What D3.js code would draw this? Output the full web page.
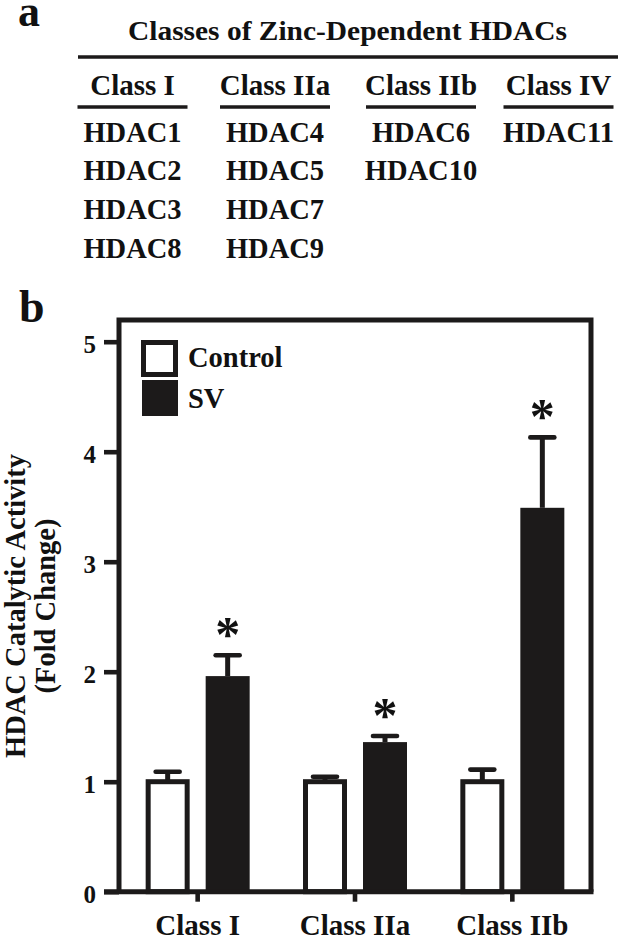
<!DOCTYPE html>
<html>
<head>
<meta charset="utf-8">
<script src="https://cdn.jsdelivr.net/npm/d3@7"></script>
<style>
  html, body { margin: 0; padding: 0; background: #fff; }
  svg { display: block; }
  text { font-family: "Liberation Serif", "Times New Roman", serif; font-weight: bold; fill: #111; }
</style>
</head>
<body>
<svg id="chart" width="618" height="938"></svg>
<script>
// ---------- Data ----------
const tableTitle = "Classes of Zinc-Dependent HDACs";
const tableClasses = ["Class I", "Class IIa", "Class IIb", "Class IV"];
const classIMembers = ["HDAC1", "HDAC2", "HDAC3", "HDAC8"];
const classIIaMembers = ["HDAC4", "HDAC5", "HDAC7", "HDAC9"];
const classIIbMembers = ["HDAC6", "HDAC10"];
const classIVMembers = ["HDAC11"];

const categories = ["Class I", "Class IIa", "Class IIb"];
const seriesNames = ["Control", "SV"];
const controlValues = [1.00, 1.00, 1.00];
const controlErrors = [0.09, 0.045, 0.11];
const svValues = [1.96, 1.36, 3.49];
const svErrors = [0.19, 0.055, 0.64];
const svSignificant = [true, true, true];
const yTicks = [0, 1, 2, 3, 4, 5];
const yLabelLines = ["HDAC Catalytic Activity", "(Fold Change)"];

(function () {
const FONT = '"Liberation Serif", "Times New Roman", serif';
const svg = d3.select("#chart");
const ink = "#1c1a1a";

// Panel labels
svg.append("text").attr("x", 18).attr("y", 26).attr("font-size", 44).text("a");
svg.append("text").attr("x", 19).attr("y", 322).attr("font-size", 46).text("b");

// ---------- Panel a: table ----------
svg.append("text")
  .attr("x", 347.5).attr("y", 40)
  .attr("text-anchor", "middle")
  .attr("font-size", 27.5)
  .attr("textLength", 439).attr("lengthAdjust", "spacingAndGlyphs")
  .text(tableTitle);
svg.append("line").attr("x1", 78).attr("x2", 618).attr("y1", 57).attr("y2", 57)
  .attr("stroke", ink).attr("stroke-width", 3.6);

const colCenters = [132.5, 275, 421, 558.5];
const members = [classIMembers, classIIaMembers, classIIbMembers, classIVMembers];
const rowY = d3.scaleLinear().domain([0, 1]).range([141.5, 180.4]);

tableClasses.forEach((c, i) => {
  const cx = colCenters[i];
  svg.append("text").attr("x", cx).attr("y", 95)
    .attr("text-anchor", "middle").attr("font-size", 29).text(c);
  svg.append("line").attr("x1", cx - 55).attr("x2", cx + 55)
    .attr("y1", 107).attr("y2", 107)
    .attr("stroke", ink).attr("stroke-width", 3.6);
  svg.selectAll(null).data(members[i]).enter().append("text")
    .attr("x", cx).attr("y", (d, j) => rowY(j))
    .attr("text-anchor", "middle").attr("font-size", 28.5)
    .text(d => d);
});

// ---------- Panel b: bar chart ----------
const plotLeft = 119, plotRight = 591, plotTop = 320, zeroY = 891.7;
const y = d3.scaleLinear().domain([0, 5]).range([zeroY, zeroY - 550]);
const x0 = d3.scaleBand().domain(categories).range([plotLeft, plotRight]).paddingInner(0).paddingOuter(0);
const bw = x0.bandwidth();
const x1 = d3.scaleBand().domain(seriesNames)
  .range([bw / 2 - 52, bw / 2 + 52]).paddingInner(0.2667).paddingOuter(0);

const rows = categories.map((c, i) => ({
  cat: c,
  bars: [
    { s: "Control", v: controlValues[i], e: controlErrors[i], sig: false },
    { s: "SV", v: svValues[i], e: svErrors[i], sig: svSignificant[i] }
  ]
}));

const groups = svg.selectAll(".grp").data(rows).enter().append("g")
  .attr("class", "grp")
  .attr("transform", d => `translate(${x0(d.cat)},0)`);

groups.each(function(d) {
  const g = d3.select(this);
  d.bars.forEach(b => {
    const cx = x1(b.s) + x1.bandwidth() / 2;
    g.append("line").attr("x1", cx).attr("x2", cx)
      .attr("y1", y(b.v)).attr("y2", y(b.v + b.e))
      .attr("stroke", ink).attr("stroke-width", 5);
    g.append("line").attr("x1", cx - 12).attr("x2", cx + 12)
      .attr("y1", y(b.v + b.e)).attr("y2", y(b.v + b.e))
      .attr("stroke", ink).attr("stroke-width", 4.6).attr("stroke-linecap", "round");
    if (b.sig) {
      g.append("text").attr("x", cx).attr("y", y(b.v + b.e) - 4)
        .attr("text-anchor", "middle").attr("font-size", 50).text("*");
    }
  });
  d.bars.forEach(b => {
    if (b.s === "Control") {
      g.append("rect")
        .attr("x", x1(b.s) + 2.5).attr("width", x1.bandwidth() - 5)
        .attr("y", y(b.v)).attr("height", zeroY - y(b.v))
        .attr("fill", "#fff").attr("stroke", ink).attr("stroke-width", 5);
    } else {
      g.append("rect")
        .attr("x", x1(b.s)).attr("width", x1.bandwidth())
        .attr("y", y(b.v)).attr("height", zeroY - y(b.v))
        .attr("fill", ink);
    }
  });
});

// Frame
svg.append("path")
  .attr("d", `M${plotLeft},${zeroY} V${plotTop} H${plotRight} V${zeroY}`)
  .attr("fill", "none").attr("stroke", ink).attr("stroke-width", 5).attr("stroke-linejoin", "miter");

// Y axis
const yAxis = d3.axisLeft(y).tickValues(yTicks).tickSize(15).tickPadding(8).tickFormat(d3.format("d"));
const gy = svg.append("g").attr("transform", `translate(${plotLeft},0)`).call(yAxis)
  .attr("font-family", FONT).attr("font-size", 25);
gy.select(".domain").remove();
gy.selectAll(".tick line").attr("stroke", ink).attr("stroke-width", 4.6);
gy.selectAll(".tick text")
  .attr("font-family", FONT).attr("font-weight", "bold")
  .attr("font-size", 25).attr("fill", "#111")
  .attr("dy", "0.42em");

// X axis
const xAxis = d3.axisBottom(x0).tickSize(10).tickPadding(13);
const gx = svg.append("g").attr("transform", `translate(0,${zeroY})`).call(xAxis)
  .attr("font-family", FONT).attr("font-size", 29);
gx.select(".domain").remove();
gx.selectAll(".tick line").attr("stroke", ink).attr("stroke-width", 4.6);
gx.selectAll(".tick text")
  .attr("font-family", FONT).attr("font-weight", "bold")
  .attr("font-size", 29).attr("fill", "#111");

// baseline
svg.append("line").attr("x1", 104).attr("x2", plotRight + 2.5)
  .attr("y1", zeroY).attr("y2", zeroY)
  .attr("stroke", ink).attr("stroke-width", 5);

// Y label
const yl = svg.append("text").attr("transform", "translate(25,606) rotate(-90)")
  .attr("text-anchor", "middle").attr("font-size", 28.5);
yl.append("tspan").attr("x", 0).attr("y", 0).text(yLabelLines[0]);
yl.append("tspan").attr("x", 0).attr("y", 30).text(yLabelLines[1]);

// Legend
const legend = svg.append("g");
legend.append("rect").attr("x", 143.5).attr("y", 342.5).attr("width", 32).attr("height", 32)
  .attr("fill", "#fff").attr("stroke", ink).attr("stroke-width", 5);
legend.append("rect").attr("x", 142).attr("y", 380).attr("width", 36).attr("height", 36)
  .attr("fill", ink);
legend.append("text").attr("x", 188).attr("y", 367).attr("font-size", 28.5).text(seriesNames[0]);
legend.append("text").attr("x", 188).attr("y", 408).attr("font-size", 28.5).text(seriesNames[1]);
})();
</script>
</body>
</html>
